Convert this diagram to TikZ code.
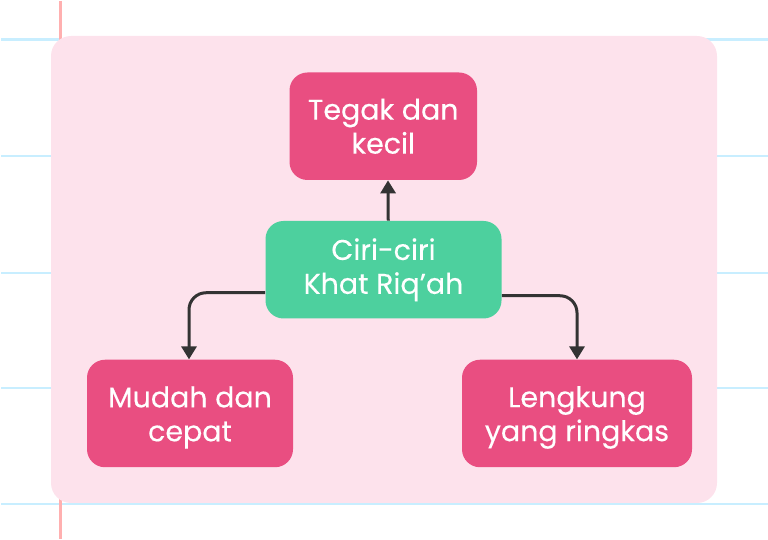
\documentclass[tikz,border=0pt]{standalone}
\usepackage{fontspec}
\setmainfont[FakeBold=0.25]{Poppins}
\usetikzlibrary{arrows.meta}
\definecolor{panelpink}{HTML}{FDE2EC}
\definecolor{boxpink}{HTML}{E94E81}
\definecolor{boxgreen}{HTML}{4DD09E}
\definecolor{ruleblue}{HTML}{C8EEFF}
\definecolor{rulered}{HTML}{FFB0B0}
\definecolor{linkgrey}{HTML}{333333}
\tikzset{
	ruleline/.style={line width=0.055cm, color=ruleblue},
	box/.style={rounded corners=0.36cm, align=center, text=white, inner sep=0pt,
		font=\fontsize{16.2pt}{19.3pt}\selectfont},
	pinkbox/.style={box, fill=boxpink, minimum height=2.15cm},
	greenbox/.style={box, fill=boxgreen, minimum height=1.95cm},
	link/.style={line width=0.06cm, color=linkgrey, rounded corners=0.34cm, -{Triangle[width=0.3cm,length=0.26cm]}}
}
\newcommand{\lowline}{\rule{0pt}{16.5pt}}
\begin{document}
\begin{tikzpicture}
			\useasboundingbox (0, 0) rectangle (15.36, 10.8);
			
			%%%%% paper %%%%%
			\draw[ruleline] (0.02, 10.01) -- (15.36, 10.01);
			\draw[ruleline] (0.02, 7.68) -- (15.36, 7.68);
			\draw[ruleline] (0.02, 5.34) -- (15.36, 5.34);
			\draw[ruleline] (0.02, 3.04) -- (15.36, 3.04);
			\draw[ruleline] (0.02, 0.72) -- (15.36, 0.72);
			\draw[line width=0.06cm, color=rulered] (1.2, 10.78) -- (1.2, 0.02);
			
			\fill[panelpink, rounded corners=0.4cm] (1.02, 0.74) rectangle (14.34, 10.08);
			
			%%%%% boxes %%%%%
			\node[pinkbox, minimum width=3.75cm] (tegak) at (7.665, 8.275) {Tegak dan\\kecil};
			\node[greenbox, minimum width=4.72cm] (ciri) at (7.67, 5.405) {Ciri-ciri\\Khat Riq’ah};
			\node[pinkbox, minimum width=4.12cm] (mudah) at (3.8, 2.53) {\lowline Mudah dan\\cepat};
			\node[pinkbox, minimum width=4.6cm] (lengkung) at (11.54, 2.53) {\lowline Lengkung\\yang ringkas};
			
			%%%%% links %%%%%
			\draw[link] ([xshift=0.095cm]ciri.north) -- ([xshift=0.095cm]tegak.south);
			\draw[link] ([yshift=-0.46cm]ciri.west) -| ([xshift=-0.02cm]mudah.north);
			\draw[link] ([yshift=-0.52cm]ciri.east) -| (lengkung.north);
\end{tikzpicture}
\end{document}
